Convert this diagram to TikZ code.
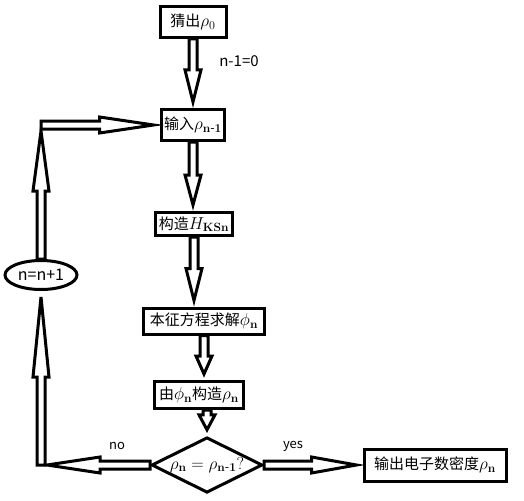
\documentclass[tikz,border=0pt]{standalone}
\usepackage{amsmath}
\usepackage[no-math]{fontspec}
\setmainfont{Noto Sans CJK SC}
\usetikzlibrary{calc,shapes.geometric}
\newcommand{\mth}[1]{{\fontsize{18}{20}\selectfont$#1$}}

\begin{document}
\begin{tikzpicture}[
    x=1pt, y=-1pt,
    font=\fontsize{15}{18}\selectfont,
    box/.style={rectangle,draw,line width=3pt,inner sep=3pt,minimum height=27pt},
    decision/.style={diamond,draw,line width=3pt,aspect=2,inner sep=1pt,
      minimum width=111pt,minimum height=55pt},
    loopnode/.style={ellipse,draw,line width=3pt,inner sep=0pt,
      minimum width=72pt,minimum height=29pt,font=\fontsize{16}{18}\selectfont},
    lbl/.style={font=\fontsize{13}{15}\selectfont},
    head len/.store in=\headlen,
    blockarrow/.style={draw,line width=3pt,line join=miter,head len=#1,
      to path={let \p1=(\tikztostart),\p2=(\tikztotarget),
        \n1={atan2(\y2-\y1,\x2-\x1)},\n2={veclen(\x2-\x1,\y2-\y1)-6} in
        {[shift={(\p1)},rotate=\n1]
          (0,-4) -- (\n2-\headlen,-4) -- (\n2-\headlen,-8) -- (\n2,0)
          -- (\n2-\headlen,8) -- (\n2-\headlen,4) -- (0,4) -- cycle}}},
    blockarrow/.default=30
  ]
    \useasboundingbox (0,0) rectangle (524,500);
    % boxes of the loop
    \node[box,minimum width=66pt,minimum height=31pt] (guess) at (193,22) {猜出\mth{\rho_0}};
    \node[box,minimum width=63pt,minimum height=31pt] (input) at (193,125) {输入\mth{\rho_{\mathbf{n}\textrm{-}\mathbf{1}}}};
    \node[box,minimum width=69pt,minimum height=23pt] (hks) at (194,224) {构造\mth{H_{\mathbf{KSn}}}};
    \node[box,minimum width=121pt,minimum height=26pt] (eigen) at (204,321) {本征方程求解\mth{\phi_{\mathbf{n}}}};
    \node[box,minimum width=89pt] (build) at (199,395) {由\mth{\phi_{\mathbf{n}}}构造\mth{\rho_{\mathbf{n}}}};
    \node[decision] (check) at (207,465) {\mth{\rho_{\mathbf{n}}=\rho_{\mathbf{n}\textrm{-}\mathbf{1}}?}};
    \node[box,minimum width=142pt,minimum height=32pt] (output) at (435,465) {输出电子数密度\mth{\rho_{\mathbf{n}}}};
    \node[loopnode] (incr) at (41,275) {n=n+1};
    \coordinate (low) at (41,465);
    \coordinate (top) at (41,125);
    % labels
    \node[lbl,font=\fontsize{15}{18}\selectfont] (lblzero) at (239,61) {n-1=0};
    \node[lbl] (lblyes) at (293,446) {yes};
    \node[lbl] (lblno) at (117,446) {no};
    % block arrows
    \draw[blockarrow=32] (guess.south) to (input.north);
    \draw[blockarrow=30] (input.south) to (input.south |- hks.north);
    \draw[blockarrow=32] (hks.south) to (hks.south |- eigen.north);
    \draw[blockarrow=18] (eigen.south) to (eigen.south |- build.north);
    \draw[blockarrow=15] (check.north |- build.south) to (check.north);
    \draw[blockarrow=45] (check.east) to (output.west);
    \draw[blockarrow=53] (check.west) to (low);
    \draw[blockarrow=80] (low) to (incr.south);
    \draw[blockarrow=60] (incr.north) to (top);
    \draw[blockarrow=54] (top) to (input.west);
  \end{tikzpicture}
\end{document}
